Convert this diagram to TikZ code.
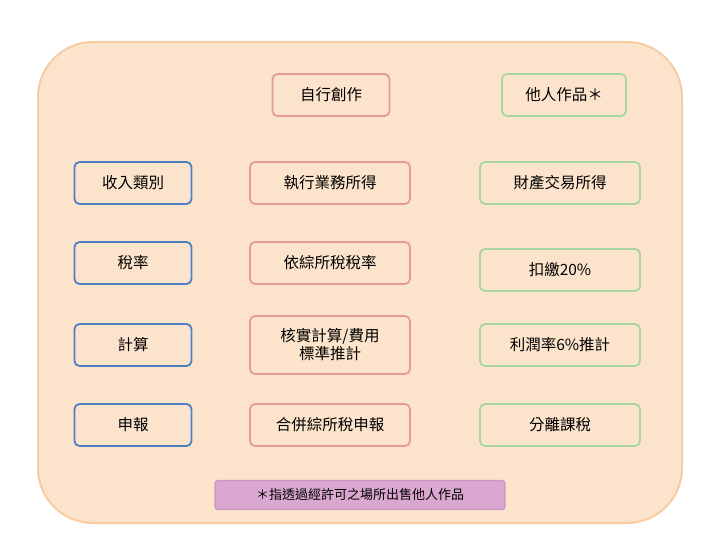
\documentclass[tikz,border=0pt]{standalone}
\usepackage{fontspec}
\setmainfont{Noto Sans CJK TC}
\definecolor{cb}{HTML}{4A80C4}
\definecolor{cr}{HTML}{E49A9A}
\definecolor{cg}{HTML}{A9D69E}
\definecolor{bgf}{HTML}{FCE3CB}
\definecolor{bgd}{HTML}{F5CDA3}
\definecolor{nf}{HTML}{D9A7CF}
\definecolor{nd}{HTML}{C995C0}
\begin{document}
\begin{tikzpicture}[x=1pt,y=-1pt,
 box/.style={draw,line width=1.8pt,rounded corners=5pt,align=center,font=\fontsize{15.5}{18}\selectfont,inner sep=0pt},
 bl/.style={box,draw=cb,minimum width=117pt,minimum height=42pt},
 rd/.style={box,draw=cr,minimum width=160pt,minimum height=42pt},
 gr/.style={box,draw=cg,minimum width=160pt,minimum height=42pt}]
\useasboundingbox (0,0) rectangle (720,540);
\fill[white] (0,0) rectangle (720,540);
\draw[line width=2pt,draw=bgd,fill=bgf,rounded corners=55pt] (38,42) rectangle (682,523);
\node[rd,minimum width=117pt] (a) at (331,95) {自行創作};
\node[gr,minimum width=124pt] (b) at (564,95) {他人作品＊};
\node[bl] (l1) at (133,183) {收入類別};
\node[bl] (l2) at (133,263) {稅率};
\node[bl] (l3) at (133,345) {計算};
\node[bl] (l4) at (133,425) {申報};
\node[rd] (m1) at (330,183) {執行業務所得};
\node[rd] (m2) at (330,263) {依綜所稅稅率};
\node[rd,minimum height=58pt] (m3) at (330,345) {核實計算/費用\\標準推計};
\node[rd] (m4) at (330,425) {合併綜所稅申報};
\node[gr] (r1) at (560,183) {財產交易所得};
\node[gr] (r2) at (560,270) {扣繳20\%};
\node[gr] (r3) at (560,345) {利潤率6\%推計};
\node[gr] (r4) at (560,425) {分離課稅};
\node[box,line width=1.2pt,rounded corners=3pt,draw=nd,fill=nf,minimum width=290pt,minimum height=29pt,font=\fontsize{13}{15}\selectfont] (n) at (360,495) {＊指透過經許可之場所出售他人作品};
\end{tikzpicture}
\end{document}
